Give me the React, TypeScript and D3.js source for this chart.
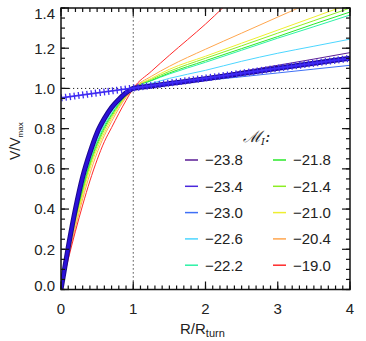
import React from 'react';
import * as d3 from 'd3';

const W = 366;
const H = 341;

const radii = [0, 0.1, 0.2, 0.3, 0.4, 0.5, 0.6, 0.7, 0.8, 0.9, 1.0, 1.25, 1.5, 2, 2.5, 3, 3.5, 4];

// V/Vmax per luminosity bin
const m238 = [0, 0.21, 0.40, 0.56, 0.68, 0.78, 0.85, 0.905, 0.945, 0.978, 1.0, 1.013, 1.026, 1.055, 1.085, 1.115, 1.146, 1.178];
const m234 = [0, 0.205, 0.395, 0.555, 0.675, 0.775, 0.847, 0.902, 0.943, 0.977, 1.0, 1.011, 1.022, 1.045, 1.07, 1.095, 1.12, 1.145];
const m230 = [0, 0.2, 0.385, 0.54, 0.665, 0.765, 0.84, 0.895, 0.94, 0.975, 1.0, 1.012, 1.022, 1.04, 1.058, 1.077, 1.096, 1.115];
const m226 = [0, 0.19, 0.37, 0.52, 0.65, 0.75, 0.825, 0.885, 0.93, 0.968, 1.0, 1.025, 1.05, 1.09, 1.135, 1.175, 1.21, 1.245];
const m222 = [0, 0.185, 0.36, 0.505, 0.635, 0.735, 0.815, 0.875, 0.925, 0.966, 1.0, 1.038, 1.072, 1.13, 1.19, 1.25, 1.307, 1.365];
const m218 = [0, 0.18, 0.35, 0.495, 0.625, 0.725, 0.805, 0.868, 0.92, 0.964, 1.0, 1.04, 1.077, 1.138, 1.198, 1.258, 1.32, 1.38];
const m214 = [0, 0.175, 0.34, 0.485, 0.615, 0.715, 0.795, 0.86, 0.915, 0.962, 1.0, 1.045, 1.085, 1.15, 1.212, 1.275, 1.337, 1.40];
const m210 = [0, 0.17, 0.33, 0.47, 0.60, 0.70, 0.78, 0.85, 0.91, 0.96, 1.0, 1.05, 1.095, 1.16, 1.225, 1.29, 1.355, 1.42];
const m204 = [0, 0.16, 0.31, 0.45, 0.575, 0.68, 0.765, 0.835, 0.9, 0.955, 1.0, 1.06, 1.11, 1.195, 1.275, 1.355, 1.435, 1.52];
const m190 = [0, 0.15, 0.29, 0.42, 0.54, 0.645, 0.735, 0.805, 0.875, 0.94, 1.0, 1.085, 1.165, 1.32, 1.49, 1.65, 1.8, 1.95];

// mean curve (thick) and the straight outer fit with + symbols
const meanCurve = [0, 0.21, 0.40, 0.56, 0.68, 0.78, 0.85, 0.905, 0.945, 0.978, 1.0, 1.012, 1.024, 1.048, 1.074, 1.1, 1.125, 1.15];
const fitR = [0, 4];
const fitV = [0.953, 1.15];

const magLabels = ['−23.8', '−23.4', '−23.0', '−22.6', '−22.2', '−21.8', '−21.4', '−21.0', '−20.4', '−19.0'];
const magColors = ['#5a1c94', '#4a28dc', '#3f70f6', '#4cd6ff', '#2cf2a6', '#2ae82a', '#8cee22', '#eeee30', '#ffa64e', '#ff2a2a'];
const magSeries = [m238, m234, m230, m226, m222, m218, m214, m210, m204, m190];

const xTicks = [0, 1, 2, 3, 4];
const xTickLabels = ['0', '1', '2', '3', '4'];
const yTicks = [0, 0.2, 0.4, 0.6, 0.8, 1.0, 1.2, 1.4];
const yTickLabels = ['0.0', '0.2', '0.4', '0.6', '0.8', '1.0', '1.2', '1.4'];

const FONT = '"Liberation Sans", Arial, Helvetica, sans-serif';

export default function App() {
  const x = d3.scaleLinear().domain([0, 4]).range([61, 350]);
  const y = d3.scaleLinear().domain([0, 1.4]).range([289.5, 8]);
  const [x0, x1] = x.range();
  const [y0, y1] = y.range();

  const curve = d3.line<number>()
    .x((_, i) => x(radii[i]))
    .y(d => y(d))
    .curve(d3.curveMonotoneX);

  const fitLine = d3.line<number>()
    .x((_, i) => x(fitR[i]))
    .y(d => y(d));

  const xMinor = d3.range(0, 4.0001, 0.1);
  const yMinor = d3.range(0, 1.4001, 0.05);

  const legendRows = [160, 186.3, 212.6, 238.9, 265.2];
  const legendCols = [185, 273];

  return (
    <svg width={W} height={H} style={{ position: 'absolute', left: 0, top: 0, background: '#fff' }}
      fontFamily={FONT}>
      <defs>
        <clipPath id="plot">
          <rect x={x0} y={y1} width={x1 - x0} height={y0 - y1} />
        </clipPath>
      </defs>

      {/* reference dotted lines */}
      <line x1={x0} x2={x1} y1={y(1)} y2={y(1)} stroke="#222" strokeWidth={1} strokeDasharray="1.2 2.8" />
      <line x1={x(1)} x2={x(1)} y1={y0} y2={y1} stroke="#222" strokeWidth={1} strokeDasharray="1.2 2.8" />

      <g clipPath="url(#plot)" fill="none">
        {magSeries.map((s, i) => (
          <path key={i} d={curve(s) || ''} stroke={magColors[i]} strokeWidth={1} />
        ))}
        <path d={curve(meanCurve) || ''} stroke="#1c0a8c" strokeWidth={5} />
        <path d={curve(meanCurve) || ''} stroke="#2a10d8" strokeWidth={3} />
        <path d={fitLine(fitV) || ''} stroke="#3f2cf2" strokeWidth={1.6} />
        <path d={fitLine(fitV) || ''} stroke="#3f2cf2" strokeWidth={7} strokeDasharray="1.3 3" />
      </g>

      {/* frame */}
      <rect x={x0} y={y1} width={x1 - x0} height={y0 - y1} fill="none" stroke="#111" strokeWidth={1.5} />

      {/* x ticks, bottom and top */}
      <g stroke="#111" strokeWidth={1.2}>
        {xMinor.map((v, i) => (
          <g key={i}>
            <line x1={x(v)} x2={x(v)} y1={y0} y2={y0 - 4} />
            <line x1={x(v)} x2={x(v)} y1={y1} y2={y1 + 4} />
          </g>
        ))}
        {xTicks.map((v, i) => (
          <g key={i}>
            <line x1={x(v)} x2={x(v)} y1={y0} y2={y0 - 8} />
            <line x1={x(v)} x2={x(v)} y1={y1} y2={y1 + 8} />
          </g>
        ))}
        {yMinor.map((v, i) => (
          <g key={i}>
            <line x1={x0} x2={x0 + 4} y1={y(v)} y2={y(v)} />
            <line x1={x1} x2={x1 - 4} y1={y(v)} y2={y(v)} />
          </g>
        ))}
        {yTicks.map((v, i) => (
          <g key={i}>
            <line x1={x0} x2={x0 + 8} y1={y(v)} y2={y(v)} />
            <line x1={x1} x2={x1 - 8} y1={y(v)} y2={y(v)} />
          </g>
        ))}
      </g>

      {/* tick labels */}
      <g fontSize={15} fill="#222">
        {xTicks.map((v, i) => (
          <text key={i} x={x(v)} y={313.5} textAnchor="middle">{xTickLabels[i]}</text>
        ))}
        {yTicks.map((v, i) => {
          const dy = v === 1.4 ? 6 : v === 0 ? -4 : 0;
          return (
            <text key={i} x={55} y={y(v) + dy + 5.3} textAnchor="end">{yTickLabels[i]}</text>
          );
        })}
      </g>

      {/* axis titles */}
      <text x={180} y={333.5} fontSize={15} fill="#222">
        R/R<tspan fontSize={11} dy={3.5}>turn</tspan>
      </text>
      <text transform="translate(20,160) rotate(-90)" fontSize={14} fill="#222">
        V/V<tspan fontSize={8} dy={3}>max</tspan>
      </text>

      {/* legend */}
      <text x={243} y={142} fontSize={16} fill="#222" fontFamily='"DejaVu Serif", serif' fontStyle="italic">
        ℳ<tspan fontSize={10} dy={3}>I</tspan><tspan dy={-3}>:</tspan>
      </text>
      {magLabels.map((lab, i) => {
        const col = Math.floor(i / 5);
        const row = i % 5;
        const lx = legendCols[col];
        const ly = legendRows[row];
        return (
          <g key={lab}>
            <line x1={lx} x2={lx + 13} y1={ly} y2={ly} stroke={magColors[i]} strokeWidth={1.5} />
            <text x={lx + 20} y={ly + 5.3} fontSize={15} fill="#222">{lab}</text>
          </g>
        );
      })}
    </svg>
  );
}
